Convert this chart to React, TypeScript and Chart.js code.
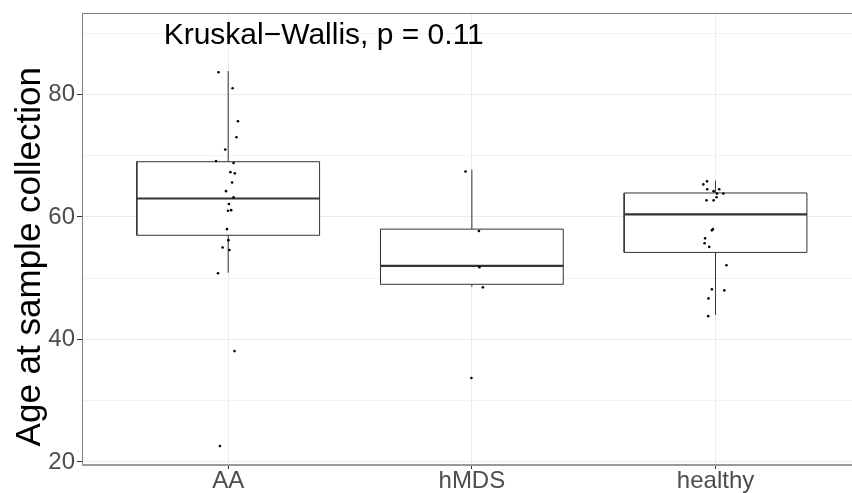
import React, { useEffect, useRef } from "react";
import { Chart, registerables } from "chart.js";

Chart.register(...registerables);

// ---------- data ----------
const CATEGORIES = ["AA", "hMDS", "healthy"];

const AA_AGES = [83.6, 81.0, 75.6, 73.0, 71.0, 69.1, 68.8, 67.3, 67.1, 65.6, 64.2, 63.2, 62.1, 61.0, 61.1, 58.0, 56.2, 55.0, 54.6, 50.8, 38.1, 22.6];
const AA_JITTER = [-0.04, 0.018, 0.04, 0.034, -0.012, -0.05, 0.022, 0.009, 0.027, 0.016, -0.009, 0.022, 0.003, -0.001, 0.012, -0.005, 0.001, -0.023, 0.005, -0.042, 0.026, -0.034];

const HMDS_AGES = [67.4, 57.7, 51.8, 48.5, 33.7];
const HMDS_JITTER = [-0.026, 0.029, 0.031, 0.045, -0.002];

const HEALTHY_AGES = [65.8, 65.3, 64.5, 64.2, 64.5, 63.8, 63.8, 63.2, 62.7, 62.7, 58.0, 57.8, 56.5, 55.7, 55.1, 52.1, 48.2, 48.0, 46.7, 43.8];
const HEALTHY_JITTER = [-0.035, -0.05, -0.034, -0.008, 0.015, 0.006, 0.032, 0.004, -0.037, -0.008, -0.011, -0.015, -0.043, -0.045, -0.026, 0.045, -0.015, 0.036, -0.029, -0.03];

// box statistics per category
const Q1 = [57.0, 49.0, 54.2];
const MEDIAN = [63.0, 52.0, 60.4];
const Q3 = [69.0, 58.0, 63.9];
const WHISKER_LOW = [50.9, 48.6, 44.0];
const WHISKER_HIGH = [83.8, 67.7, 65.9];

const Y_MAJOR_TICKS = [20, 40, 60, 80];
const Y_MINOR_TICKS = [30, 50, 70, 90];

const ANNOTATION_TEXT = "Kruskal\u2212Wallis, p = 0.11";
const ANNOTATION_X = 0.735;
const ANNOTATION_Y = 88.16;

const Y_TITLE = "Age at sample collection";

// ---------- styles ----------
const FONT = "'Liberation Sans', Arial, Helvetica, sans-serif";
const BOX_HALF = 0.375;
const LINE_COLOR = "#333333";

function zeroPadding(scale: any) {
  scale.paddingLeft = 0;
  scale.paddingRight = 0;
  scale.paddingTop = 0;
  scale.paddingBottom = 0;
}

export default function App() {
  const ref = useRef<HTMLCanvasElement | null>(null);

  useEffect(() => {
    const canvas = ref.current;
    if (!canvas) return;

    const groups = [
      { ages: AA_AGES, jitter: AA_JITTER },
      { ages: HMDS_AGES, jitter: HMDS_JITTER },
      { ages: HEALTHY_AGES, jitter: HEALTHY_JITTER },
    ];

    const datasets: any[] = [];
    // jittered points, drawn on top
    groups.forEach((g, gi) => {
      datasets.push({
        type: "scatter",
        data: g.ages.map((y, i) => ({ x: gi + 1 + g.jitter[i], y })),
        pointRadius: 1.3,
        pointHoverRadius: 1.3,
        pointBackgroundColor: "#000000",
        pointBorderWidth: 0,
        borderColor: "#000000",
        showLine: false,
        order: 0,
      });
    });
    // boxes, whiskers, medians
    CATEGORIES.forEach((_, gi) => {
      const c = gi + 1;
      const lineBase = {
        type: "scatter",
        showLine: true,
        pointRadius: 0,
        pointHoverRadius: 0,
        borderColor: LINE_COLOR,
        borderWidth: 1,
        tension: 0,
        order: 1,
      };
      datasets.push({
        ...lineBase,
        order: 2,
        data: [
          { x: c - BOX_HALF, y: Q1[gi] },
          { x: c + BOX_HALF, y: Q1[gi] },
          { x: c + BOX_HALF, y: Q3[gi] },
          { x: c - BOX_HALF, y: Q3[gi] },
          { x: c - BOX_HALF, y: Q1[gi] },
        ],
        fill: "shape",
        backgroundColor: "#ffffff",
      });
      datasets.push({ ...lineBase, data: [{ x: c, y: Q3[gi] }, { x: c, y: WHISKER_HIGH[gi] }] });
      datasets.push({ ...lineBase, data: [{ x: c, y: WHISKER_LOW[gi] }, { x: c, y: Q1[gi] }] });
      datasets.push({
        ...lineBase,
        borderWidth: 2.2,
        data: [{ x: c - BOX_HALF, y: MEDIAN[gi] }, { x: c + BOX_HALF, y: MEDIAN[gi] }],
      });
    });

    const panelPlugin = {
      id: "panel",
      afterDatasetsDraw(chart: any) {
        const { ctx, chartArea, scales } = chart;
        ctx.save();
        // Kruskal-Wallis annotation
        ctx.fillStyle = "#000000";
        ctx.font = `30px ${FONT}`;
        ctx.textAlign = "left";
        ctx.textBaseline = "alphabetic";
        ctx.fillText(ANNOTATION_TEXT, scales.x.getPixelForValue(ANNOTATION_X), scales.y.getPixelForValue(ANNOTATION_Y));
        // panel border
        ctx.strokeStyle = "#7f7f7f";
        ctx.lineWidth = 1;
        ctx.beginPath();
        ctx.moveTo(chartArea.left + 0.5, chartArea.bottom);
        ctx.lineTo(chartArea.left + 0.5, chartArea.top + 0.5);
        ctx.lineTo(chartArea.right, chartArea.top + 0.5);
        ctx.stroke();
        ctx.strokeStyle = "#999999";
        ctx.lineWidth = 2;
        ctx.beginPath();
        ctx.moveTo(chartArea.left, chartArea.bottom);
        ctx.lineTo(chartArea.right, chartArea.bottom);
        ctx.stroke();
        ctx.restore();
      },
      afterDraw(chart: any) {
        const { ctx } = chart;
        // y axis title
        ctx.save();
        ctx.translate(40, 256.7);
        ctx.rotate(-Math.PI / 2);
        ctx.fillStyle = "#000000";
        ctx.font = `35px ${FONT}`;
        ctx.textAlign = "center";
        ctx.textBaseline = "alphabetic";
        ctx.fillText(Y_TITLE, 0, 0);
        ctx.restore();
      },
    };

    const chart = new Chart(canvas, {
      type: "scatter",
      data: { datasets },
      plugins: [panelPlugin],
      options: {
        animation: false,
        responsive: false,
        devicePixelRatio: 1,
        layout: { autoPadding: false, padding: { top: 13, right: 0, left: 0, bottom: 0 } },
        plugins: { legend: { display: false }, tooltip: { enabled: false } },
        scales: {
          x: {
            type: "linear",
            min: 0.4,
            max: 3.56,
            afterBuildTicks(scale: any) {
              scale.ticks = CATEGORIES.map((_, i) => ({ value: i + 1 }));
            },
            afterFit(scale: any) {
              scale.height = 28;
              zeroPadding(scale);
            },
            border: { display: false },
            grid: { color: "#ebebeb", lineWidth: 1, tickLength: 4, tickColor: LINE_COLOR },
            ticks: {
              padding: -2,
              color: "#4d4d4d",
              font: { family: FONT, size: 24 },
              maxRotation: 0,
              autoSkip: false,
              callback: (v: any) => CATEGORIES[Math.round(Number(v)) - 1] ?? "",
            },
          },
          y: {
            type: "linear",
            min: 19.51,
            max: 93.27,
            afterBuildTicks(scale: any) {
              scale.ticks = [...Y_MAJOR_TICKS, ...Y_MINOR_TICKS].sort((a, b) => a - b).map((v) => ({ value: v }));
            },
            afterFit(scale: any) {
              scale.width = 82;
              zeroPadding(scale);
            },
            border: { display: false },
            grid: {
              color: (c: any) => (Y_MAJOR_TICKS.includes(c.tick?.value) ? "#ebebeb" : "#f2f2f2"),
              lineWidth: 1,
              tickLength: 5,
              tickColor: (c: any) => (Y_MAJOR_TICKS.includes(c.tick?.value) ? LINE_COLOR : "rgba(0,0,0,0)"),
            },
            ticks: {
              padding: 2,
              color: "#4d4d4d",
              font: { family: FONT, size: 24 },
              autoSkip: false,
              callback: (v: any) => (Y_MAJOR_TICKS.includes(Number(v)) ? String(v) : ""),
            },
          },
        },
      } as any,
    });

    return () => chart.destroy();
  }, []);

  return (
    <div style={{ position: "absolute", left: 0, top: 0, width: 852, height: 493, background: "#ffffff" }}>
      <canvas ref={ref} width={852} height={493} />
    </div>
  );
}
